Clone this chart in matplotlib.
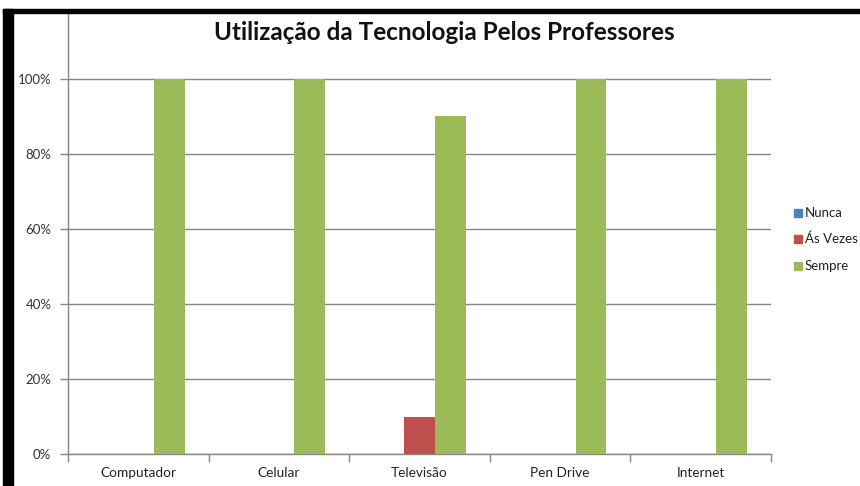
import matplotlib
matplotlib.use("Agg")
import matplotlib.pyplot as plt
from matplotlib.patches import Rectangle
import numpy as np

categories = ["Computador", "Celular", "Televisão", "Pen Drive", "Internet"]
series_names = ["Nunca", "Ás Vezes", "Sempre"]
nunca = [0.0, 0.0, 0.0, 0.0, 0.0]
as_vezes = [0.0, 0.0, 0.10, 0.0, 0.0]
sempre = [1.0, 1.0, 0.90, 1.0, 1.0]
colors = ["#4F81BD", "#C0504D", "#9BBB59"]
yticks = [0, 0.2, 0.4, 0.6, 0.8, 1.0]
ytick_labels = ["0%", "20%", "40%", "60%", "80%", "100%"]
title = "Utilização da Tecnologia Pelos Professores"

W, H = 860, 486
plt.rcParams['font.family'] = ['Lato', 'DejaVu Sans']
fig = plt.figure(figsize=(W / 100, H / 100), dpi=100)

def fx(px):
    return px / W

def fy(py):
    return 1 - py / H

ax_l, ax_r, ax_t, ax_b = 68, 771, 12, 454
ax = fig.add_axes([fx(ax_l), fy(ax_b), fx(ax_r - ax_l), (ax_b - ax_t) / H])

x = np.arange(len(categories))
w = 0.22
for i, (vals, name) in enumerate(zip([nunca, as_vezes, sempre], series_names)):
    ax.bar(x + (i - 1) * w, vals, width=w, color=colors[i], label=name, zorder=3)

ax.set_xlim(-0.5, len(categories) - 0.5)
ax.set_ylim(0, (ax_b - ax_t) / (ax_b - 79))
ax.set_yticks(yticks)
ax.set_yticklabels(ytick_labels)
ax.yaxis.grid(True, color="#868686", linewidth=1.0, zorder=0)
ax.set_axisbelow(True)

ax.set_xticks(x)
ax.set_xticklabels(categories)
ax.set_xticks(np.arange(-0.5, len(categories)), minor=True)
ax.tick_params(axis="x", which="major", length=0, pad=9, labelsize=9.8, colors="#222222")
ax.tick_params(axis="x", which="minor", length=6, width=1, color="#868686", direction="out")
ax.tick_params(axis="y", length=6, width=1, color="#868686", direction="out", pad=6,
               labelsize=9.5, labelcolor="#333333")

for s in ["top", "right"]:
    ax.spines[s].set_visible(False)
for s in ["left", "bottom"]:
    ax.spines[s].set_color("#868686")
    ax.spines[s].set_linewidth(1.0)

fig.text(fx(444), fy(33), title, ha="center", va="center", fontsize=17.5,
         fontweight="bold", color="#111111")

# legend drawn manually as figure elements
leg_y = [213, 239, 266]
for name, c, yy in zip(series_names, colors, leg_y):
    fig.patches.append(Rectangle((fx(794), fy(yy + 4)), fx(8), 8 / H, color=c,
                                 transform=fig.transFigure, figure=fig))
    fig.text(fx(805), fy(yy), name, ha="left", va="center", fontsize=9.5, color="#222222")

# black frame pieces
fig.patches.append(Rectangle((fx(3), 0), fx(10), fy(9), color="black",
                             transform=fig.transFigure, figure=fig, zorder=10))
fig.patches.append(Rectangle((fx(3), fy(13)), 1 - fx(3), 4 / H, color="black",
                             transform=fig.transFigure, figure=fig, zorder=10))

fig.savefig("out.png", dpi=100)
